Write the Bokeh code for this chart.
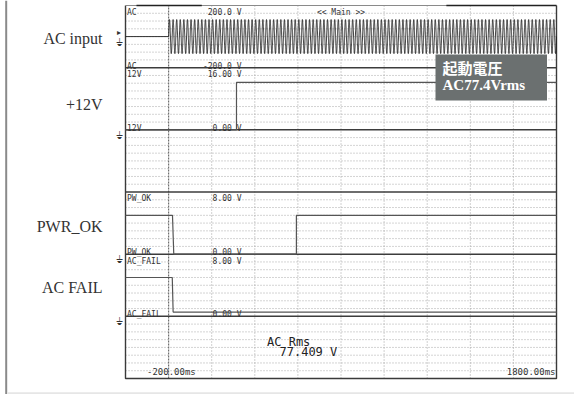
import numpy as np
from bokeh.plotting import figure
from bokeh.models import Range1d, Label
from bokeh.embed import file_html
from bokeh.resources import INLINE

# ---- time base (ms) ----
T_START, T_END = -200, 1800
DIV_MS = 200
SUBDIV = 8          # vertical sub-divisions per channel strip
N_STRIPS = 6
Y_TOP = N_STRIPS * SUBDIV

# ---- channel data ----
ac_vrms = 77.409            # measured AC Rms
ac_freq_hz = 60
ac_on_ms = 0
ac_scale = (-200.0, 200.0)

v12_t = [-200, 315, 315, 1800]
v12_v = [0.0, 0.0, 12.2, 12.2]
v12_scale = (0.0, 16.0)

pwok_t = [-200, 18, 24, 593, 593, 1800]
pwok_v = [5.0, 5.0, 0.0, 0.0, 5.0, 5.0]
pwok_scale = (0.0, 8.0)

acfail_t = [-200, 17, 21, 1800]
acfail_v = [5.0, 5.0, 0.55, 0.55]
acfail_scale = (0.0, 8.0)

# strip index counted from the bottom
STRIP_AC, STRIP_12V, STRIP_EMPTY, STRIP_PWOK, STRIP_ACFAIL, STRIP_MEAS = 5, 4, 3, 2, 1, 0

# ---- page geometry: the scope screen occupies part of the canvas ----
W, H = 574, 394
FL, FR, FT, FB = 125, 556, 5, 378


def px_to_ms(px):
    return T_START + (px - FL) / (FR - FL) * (T_END - T_START)


def py_to_y(py):
    return (FB - py) / (FB - FT) * Y_TOP


def to_strip(values, scale, strip):
    lo, hi = scale
    return [strip * SUBDIV + (v - lo) / (hi - lo) * SUBDIV for v in values]


p = figure(width=W, height=H,
           x_range=Range1d(px_to_ms(0), px_to_ms(W)),
           y_range=Range1d(py_to_y(H), py_to_y(0)),
           x_axis_type=None, y_axis_type=None,
           toolbar_location=None, output_backend="svg",
           min_border=0, min_border_left=0, min_border_right=0,
           min_border_top=0, min_border_bottom=0,
           background_fill_color="white", border_fill_color="white",
           outline_line_color=None)

# ---- page frame ----
p.quad(left=[px_to_ms(4.7)], right=[px_to_ms(6.7)], top=[py_to_y(0)], bottom=[py_to_y(394)],
       fill_color="#8a8a8a", line_color=None)
p.quad(left=[px_to_ms(6.7)], right=[px_to_ms(574)], top=[py_to_y(391.8)], bottom=[py_to_y(394)],
       fill_color="#e6e6e6", line_color=None)

# ---- graticule ----
sub_ys = [j for j in range(1, Y_TOP) if j % SUBDIV]
p.multi_line(xs=[[T_START, T_END]] * len(sub_ys), ys=[[y, y] for y in sub_ys],
             line_color="#a8a8a8", line_width=1, line_dash="1 2")
grid_ts = [t for t in range(T_START + DIV_MS, T_END, DIV_MS) if t != 0]
p.multi_line(xs=[[t, t] for t in grid_ts], ys=[[0, Y_TOP]] * len(grid_ts),
             line_color="#a0a0a0", line_width=1, line_dash="1 2")
p.line([0, 0], [0, Y_TOP], line_color="#707070", line_width=1.2, line_dash="2 1")

sep_ys = [k * SUBDIV for k in range(1, N_STRIPS)]
p.multi_line(xs=[[T_START, T_END]] * len(sep_ys), ys=[[y, y] for y in sep_ys],
             line_color="#3c3c3c", line_width=1.5)

# screen border
p.line([T_START, T_START, T_END, T_END], [Y_TOP, 0, 0, Y_TOP], line_color="#3a3a3a", line_width=1.4)
p.line([T_START, T_END], [Y_TOP, Y_TOP], line_color="#8a8a8a", line_width=1.2)
p.segment(x0=[-149, 1289], x1=[154, 1800], y0=[Y_TOP, Y_TOP], y1=[Y_TOP, Y_TOP],
          line_color="#222222", line_width=1.6)

# ---- waveforms ----
t_on = np.linspace(ac_on_ms, T_END, 12000)
ac_v = ac_vrms * np.sqrt(2) * np.sin(2 * np.pi * ac_freq_hz * (t_on - ac_on_ms) / 1000.0)
ac_t_all = np.concatenate([[T_START, ac_on_ms], t_on])
ac_v_all = np.concatenate([[0.0, 0.0], ac_v])
p.line(ac_t_all, to_strip(ac_v_all, ac_scale, STRIP_AC), line_color="#1e1e1e", line_width=0.9)

p.line(v12_t, to_strip(v12_v, v12_scale, STRIP_12V), line_color="#555555", line_width=1.2)
p.line(pwok_t, to_strip(pwok_v, pwok_scale, STRIP_PWOK), line_color="#555555", line_width=1.2)
p.line(acfail_t, to_strip(acfail_v, acfail_scale, STRIP_ACFAIL), line_color="#555555", line_width=1.2)

# ---- scope text ----
MONO = "DejaVu Sans Mono"


def small(text, x, y, align="left"):
    p.add_layout(Label(x=x, y=y, text=text, text_font=MONO, text_font_size="8px",
                       text_color="#333333", text_align=align, text_baseline="alphabetic"))


x_name = px_to_ms(126.5)
x_scale = px_to_ms(241)
channels = [("AC", STRIP_AC, "200.0 V", "-200.0 V"),
            ("12V", STRIP_12V, "16.00 V", "0.00 V"),
            ("PW_OK", STRIP_PWOK, "8.00 V", "0.00 V"),
            ("AC_FAIL", STRIP_ACFAIL, "8.00 V", "0.00 V")]
for name, s, top_txt, bot_txt in channels:
    y_top = s * SUBDIV + SUBDIV - 1 + 0.1
    y_bot = s * SUBDIV + 0.2
    small(name, x_name, y_top)
    small(name, x_name, y_bot)
    small(top_txt, x_scale, y_top, "right")
    small(bot_txt, x_scale, y_bot, "right")

small("<< Main >>", 800, STRIP_AC * SUBDIV + SUBDIV - 1 + 0.1, "center")

p.add_layout(Label(x=px_to_ms(146.5), y=py_to_y(376.8), text="-200.00ms", text_font=MONO,
                   text_font_size="9px", text_color="#333333"))
p.add_layout(Label(x=px_to_ms(555), y=py_to_y(376.8), text="1800.00ms", text_font=MONO,
                   text_font_size="9px", text_color="#333333", text_align="right"))

p.add_layout(Label(x=px_to_ms(266.5), y=py_to_y(348.5), text="AC  Rms", text_font=MONO,
                   text_font_size="12px", text_color="#222222"))
p.add_layout(Label(x=px_to_ms(279), y=py_to_y(358.5), text=f"{ac_vrms:.3f} V", text_font=MONO,
                   text_font_size="12px", text_color="#222222"))

# ---- channel names ----
SERIF = "Liberation Serif"
x_names = px_to_ms(102)
for txt, py in [("AC input", 38), ("+12V", 104), ("PWR_OK", 226), ("AC FAIL", 287)]:
    p.add_layout(Label(x=x_names, y=py_to_y(py), text=txt, text_font=SERIF,
                       text_font_size="16px", text_color="#333333",
                       text_align="right", text_baseline="middle"))

# ground markers at each channel's zero level
x_gnd = px_to_ms(118.5)
for s, scale in [(STRIP_AC, ac_scale), (STRIP_12V, v12_scale),
                 (STRIP_PWOK, pwok_scale), (STRIP_ACFAIL, acfail_scale)]:
    y0 = to_strip([0.0], scale, s)[0]
    p.add_layout(Label(x=x_gnd, y=y0, text="\u23da", text_font="DejaVu Sans",
                       text_font_size="10px", text_color="#333333",
                       text_align="center", text_baseline="top"))
p.add_layout(Label(x=x_gnd, y=to_strip([0.0], ac_scale, STRIP_AC)[0], text="\u25b8",
                   text_font="DejaVu Sans", text_font_size="8px", text_color="#333333",
                   text_align="center", text_baseline="bottom"))

# ---- startup voltage note ----
p.quad(left=[px_to_ms(435)], right=[px_to_ms(546.5)], top=[py_to_y(54)], bottom=[py_to_y(100)],
       fill_color="#6b7070", line_color=None)
x_note = px_to_ms(442)
p.add_layout(Label(x=x_note, y=py_to_y(66.5), text="起動電圧", text_font="Noto Sans CJK JP",
                   text_font_size="15px", text_font_style="bold", text_color="white",
                   text_baseline="middle"))
p.add_layout(Label(x=x_note, y=py_to_y(84), text=f"AC{round(ac_vrms, 1)}Vrms", text_font=SERIF,
                   text_font_size="15px", text_font_style="bold", text_color="white",
                   text_baseline="middle"))

open("out.html", "w").write(file_html(p, INLINE))
